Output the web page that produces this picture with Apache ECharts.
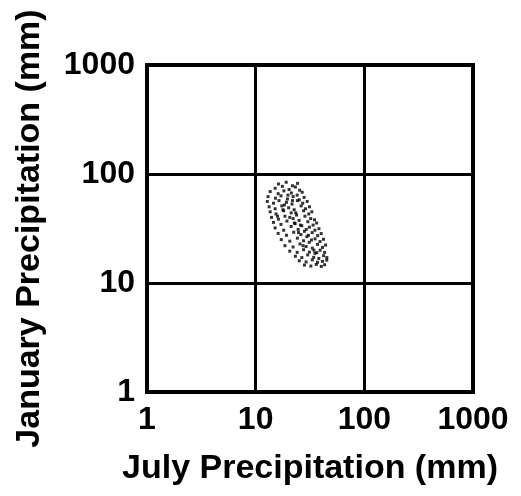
<!DOCTYPE html>
<html>
<head>
<meta charset="utf-8">
<script src="https://cdn.jsdelivr.net/npm/echarts@6/dist/echarts.min.js"></script>
<style>
html,body{margin:0;padding:0;background:#fff;}
#chart{width:521px;height:496px;}
</style>
</head>
<body>
<div id="chart"></div>
<script>
const xTicks = [1, 10, 100, 1000];
const yTicks = [1, 10, 100, 1000];
const xTitle = 'July Precipitation (mm)';
const yTitle = 'January Precipitation (mm)';
// [July precipitation (mm), January precipitation (mm)]
const points = [
[16.2,81],[19.1,84],[21.8,78],[24.3,82],
[15.1,74],[17.6,77],[20.3,72],[23.2,76],[25.4,71],
[13.6,69],[16.1,66],[18.2,70],[21.3,67],[24.1,64],[26.8,68],
[13.0,62],[15.2,60],[17.1,63],[19.6,59],[22.1,62],[25.2,58],[27.9,61],
[12.8,56],[14.6,54],[16.4,57],[19.2,55],[21.6,53],[24.2,57],[27.1,54],[29.8,56],
[13.3,50],[15.1,48],[17.4,51],[20.1,49],[22.6,47],[26.2,51],[28.8,48],[31.3,50],
[13.6,45],[15.4,43],[18.1,46],[21.2,44],[23.8,42],[27.6,46],[30.8,43],[32.9,45],
[14.0,40],[16.2,38.5],[18.6,41],[22.1,39],[25.1,37.5],[28.4,41],[32.1,39],[34.8,38],
[14.6,36],[17.1,34.5],[19.4,37],[23.1,35],[26.6,33.5],[30.2,36.5],[33.8,34],[36.4,35.5],
[15.1,32],[18.1,30.5],[21.2,33],[24.6,31],[28.1,29.8],[31.2,32.5],[35.1,30.5],[38.2,31.5],
[16.1,28.5],[19.2,27.4],[22.4,29.2],[26.1,27.8],[29.6,26.6],[33.1,29],[37.2,27.2],[40.1,28.4],
[17.2,25],[20.6,24.2],[24.2,25.8],[27.6,24.4],[31.1,23.6],[35.2,25.4],[39.1,24],[42.1,25.2],
[18.6,22],[22.1,21.4],[25.6,22.8],[29.1,21.6],[33.2,20.9],[37.1,22.6],[41.2,21.2],[44.0,22.3],
[20.6,19.6],[24.1,19.1],[27.6,20.2],[31.2,19.2],[35.1,18.7],[39.2,20],[43.1,19.1],
[23.2,17.6],[26.6,17.1],[30.1,18.1],[34.2,17.2],[38.1,16.8],[42.2,17.8],[45.2,17.1],
[25.2,16],[29.1,15.6],[33.2,16.3],[37.1,15.5],[41.2,15.8],[45.1,16.2],
[28.1,14.6],[32.2,14.3],[36.1,14.8],[40.2,14.2],[43.1,14.7],
[19.8,64],[18.4,52],[23.4,44],[20.6,40],[25.8,34],[29.2,31],[27.3,22],[32.6,24.8],
[17.8,47],[15.9,41],[21.8,57],[30.6,27.4],[34.4,20],[24.8,29],[22.7,35.5],[36.6,19]
];

const chart = echarts.init(document.getElementById('chart'), null, {renderer:'canvas'});
const font = {fontFamily:'Liberation Sans, Arial, sans-serif', fontWeight:'bold', color:'#000'};
chart.setOption({
  animation:false,
  backgroundColor:'#fff',
  grid:{left:147, right:48, top:65, bottom:104, show:true, borderColor:'#000', borderWidth:4},
  xAxis:{
    type:'log', logBase:10, min:xTicks[0], max:xTicks[xTicks.length-1],
    name:xTitle, nameLocation:'middle', nameGap:60,
    nameTextStyle:Object.assign({fontSize:34}, font),
    axisLine:{show:false}, axisTick:{show:false},
    axisLabel:Object.assign({fontSize:32, margin:12, formatter:v=>String(Math.round(v))}, font),
    splitLine:{show:true, lineStyle:{color:'#000', width:3}}
  },
  yAxis:{
    type:'log', logBase:10, min:yTicks[0], max:yTicks[yTicks.length-1],
    name:yTitle, nameLocation:'middle', nameGap:100,
    nameTextStyle:Object.assign({fontSize:34}, font),
    axisLine:{show:false}, axisTick:{show:false},
    axisLabel:Object.assign({fontSize:32, margin:12, formatter:v=>String(Math.round(v))}, font),
    splitLine:{show:true, lineStyle:{color:'#000', width:3}}
  },
  series:[{
    type:'scatter', data:points, symbol:'rect', symbolSize:3,
    itemStyle:{color:'#000'}
  }]
});
</script>
</body>
</html>
